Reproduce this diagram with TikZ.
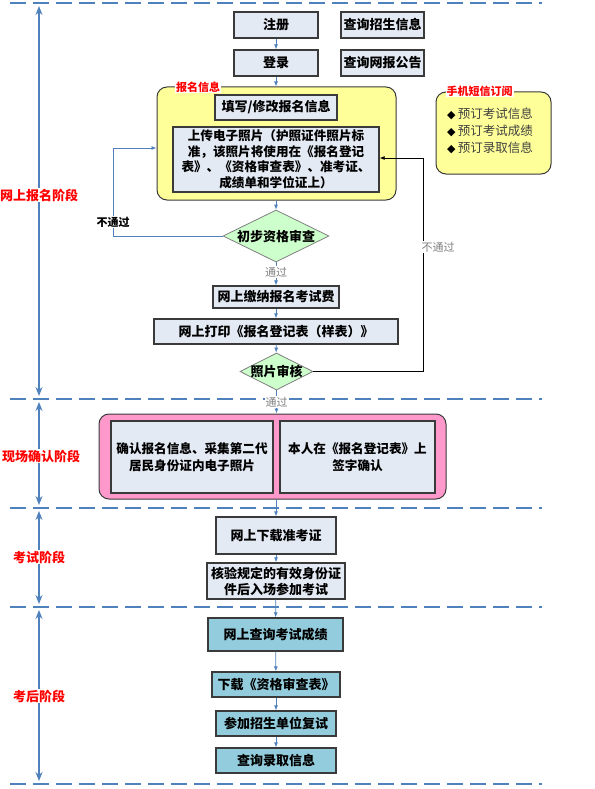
\documentclass[tikz,border=0pt]{standalone}
\usepackage{fontspec}
\newfontfamily\cjk{Noto Sans CJK SC}
\newfontfamily\dejavu{DejaVu Sans}
\usetikzlibrary{shapes.geometric,arrows.meta}
\definecolor{boxfill}{HTML}{E4EAF4}
\definecolor{boxline}{HTML}{3A3A3A}
\definecolor{tealfill}{HTML}{93CDDD}
\definecolor{yelfill}{HTML}{FFFF99}
\definecolor{pinkfill}{HTML}{FF99CC}
\definecolor{greenfill}{HTML}{CCFFCC}
\definecolor{blueline}{HTML}{4F81BD}
\definecolor{redtext}{HTML}{FF0000}
\definecolor{graytext}{HTML}{808080}
\definecolor{darktext}{HTML}{404040}
\begin{document}
\begin{tikzpicture}[x=1pt,y=-1pt,
  box/.style={draw=boxline, line width=1.3pt, fill=boxfill, inner sep=0pt, align=center,
    font=\cjk\bfseries\fontsize{13}{16}\selectfont},
  tealbox/.style={box, fill=tealfill},
  container/.style={draw=boxline, line width=1pt, rounded corners=10pt, inner sep=0pt},
  decision/.style={diamond, draw=graytext, line width=0.8pt, fill=greenfill, inner sep=0pt,
    font=\cjk\bfseries\fontsize{13}{16}\selectfont},
  flow/.style={draw=blueline, line width=0.8pt, -{Latex[length=5pt,width=4pt]}},
  backflow/.style={draw=black, line width=0.8pt, -{Latex[length=5pt,width=4pt]}},
  stagearrow/.style={draw=blueline, line width=1.3pt, {Stealth[length=9pt,width=7pt]}-{Stealth[length=9pt,width=7pt]}},
  sep/.style={draw=blueline, line width=2pt, dash pattern=on 16pt off 7pt},
  stagelabel/.style={fill=white, inner sep=1pt, text=redtext, font=\cjk\bfseries\fontsize{13}{15}\selectfont},
  grouplabel/.style={fill=white, inner sep=1pt, text=redtext, font=\cjk\bfseries\fontsize{11}{13}\selectfont},
  passlabel/.style={fill=white, inner sep=1pt, text=graytext, font=\cjk\fontsize{11}{13}\selectfont},
  faillabel/.style={fill=white, inner sep=1pt, text=black, font=\cjk\bfseries\fontsize{11}{13}\selectfont}
]
\useasboundingbox (0,0) rectangle (594,789);
\fill[white] (0,0) rectangle (594,789);

% separators
\foreach \yy/\nm in {3/s0, 399/s1, 508/s2, 607/s3, 784/s4}{
  \coordinate (\nm L) at (10,\yy);
  \coordinate (\nm R) at (542,\yy);
  \draw[sep] (\nm L) -- (\nm R);
}

% stage arrows
\coordinate (a0t) at (39,6);   \coordinate (a0b) at (39,396);
\coordinate (a1t) at (39,402); \coordinate (a1b) at (39,505);
\coordinate (a2t) at (39,511); \coordinate (a2b) at (39,604);
\coordinate (a3t) at (39,610); \coordinate (a3b) at (39,781);
\draw[stagearrow] (a0t) -- (a0b);
\draw[stagearrow] (a1t) -- (a1b);
\draw[stagearrow] (a2t) -- (a2b);
\draw[stagearrow] (a3t) -- (a3b);
\node[stagelabel] (st0) at (39,195) {网上报名阶段};
\node[stagelabel] (st1) at (41,456) {现场确认阶段};
\node[stagelabel] (st2) at (39,557) {考试阶段};
\node[stagelabel] (st3) at (39,696) {考后阶段};

% containers
\node[container, fill=yelfill, minimum width=239pt, minimum height=113pt] (yb) at (276.5,143.5) {};
\node[container, fill=yelfill, minimum width=115pt, minimum height=82pt] (pb) at (493.5,133) {};
\node[container, fill=pinkfill, minimum width=347pt, minimum height=85pt] (pk) at (272.5,456.5) {};
\node[grouplabel] (ybl) at (198,87) {报名信息};
\node[grouplabel] (pbl) at (479.5,91) {手机短信订阅};

% top boxes
\node[box, minimum width=84pt, minimum height=26pt] (reg) at (276,25) {注册};
\node[box, minimum width=83pt, minimum height=26pt] (qz) at (382.5,25) {查询招生信息};
\node[box, minimum width=84pt, minimum height=26pt] (login) at (276,63) {登录};
\node[box, minimum width=83pt, minimum height=26pt] (qw) at (382.5,63) {查询网报公告};

\node[box, minimum width=122pt, minimum height=25pt] (fill) at (276,107.5) {填写/修改报名信息};
\node[box, minimum width=206pt, minimum height=65pt, font=\cjk\bfseries\fontsize{12.6}{15.5}\selectfont] (up) at (276,159.5)
  {上传电子照片（护照证件照片标\\准，该照片将使用在《报名登记\\表》、《资格审查表》、准考证、\\成绩单和学位证上）};

\node[align=left, inner sep=0pt, text=darktext, font=\cjk\fontsize{12.5}{17}\selectfont] (pitems) at (490,131)
  {{\dejavu\color{black}\fontsize{11}{17}\selectfont ◆}\,预订考试信息\\{\dejavu\color{black}\fontsize{11}{17}\selectfont ◆}\,预订考试成绩\\{\dejavu\color{black}\fontsize{11}{17}\selectfont ◆}\,预订录取信息};

\node[decision, minimum width=106pt, minimum height=52pt] (d1) at (276,236) {\makebox[0pt]{初步资格审查}};
\node[box, minimum width=126pt, minimum height=22pt] (fee) at (276,297) {网上缴纳报名考试费};
\node[box, minimum width=244pt, minimum height=25pt] (print) at (276,331.5) {网上打印《报名登记表（样表）》};
\node[decision, minimum width=73pt, minimum height=37pt] (d2) at (276.5,371.5) {\makebox[0pt]{照片审核}};

\node[box, minimum width=162pt, minimum height=72pt, font=\cjk\bfseries\fontsize{12.6}{17}\selectfont] (c1) at (192,457)
  {确认报名信息、采集第二代\\居民身份证内电子照片};
\node[box, minimum width=155pt, minimum height=72pt, font=\cjk\bfseries\fontsize{12.6}{17}\selectfont] (c2) at (357.5,457)
  {本人在《报名登记表》上\\签字确认};

\node[box, minimum width=120pt, minimum height=37pt] (dl) at (276,535.5) {网上下载准考证};
\node[box, minimum width=138pt, minimum height=36pt, font=\cjk\bfseries\fontsize{13}{16}\selectfont] (hy) at (276,581)
  {核验规定的有效身份证\\件后入场参加考试};

\node[tealbox, minimum width=135pt, minimum height=33pt] (cx) at (275.5,634.5) {网上查询考试成绩};
\node[tealbox, minimum width=128pt, minimum height=25pt] (xz) at (276,684.5) {下载《资格审查表》};
\node[tealbox, minimum width=120pt, minimum height=25pt] (fs) at (276,723.5) {参加招生单位复试};
\node[tealbox, minimum width=120pt, minimum height=25pt] (lq) at (276,760.5) {查询录取信息};

% flow connectors
\draw[flow] (reg) -- (login);
\draw[flow] (login.south) -- (login.south |- yb.north);
\draw[flow] (yb.south -| d1.north) -- (d1.north);
\draw[flow] (d1.south) -- node[passlabel, pos=0.42] (p1) {通过} (fee.north);
\draw[flow] (fee) -- (print);
\draw[flow] (print) -- (d2);
\draw[flow] (d2.south) -- node[passlabel, pos=0.5] (p2) {通过} (d2.south |- pk.north);
\draw[flow] (dl.north |- pk.south) -- (dl.north);
\draw[flow] (dl) -- (hy);
\draw[flow] (hy) -- (cx);
\draw[flow] (cx) -- (xz);
\draw[flow] (xz) -- (fs);
\draw[flow] (fs) -- (lq);

% loops
\coordinate (lp) at (113,148);
\draw[flow] (d1.west) -| (lp) -- (lp -| yb.west);
\node[faillabel] (f1) at (113,222) {不通过};
\coordinate (rp) at (423,158);
\draw[backflow] (d2.east) -| (rp) -- (rp -| up.east);
\node[passlabel] (f2) at (438,247) {不通过};
\end{tikzpicture}
\end{document}
